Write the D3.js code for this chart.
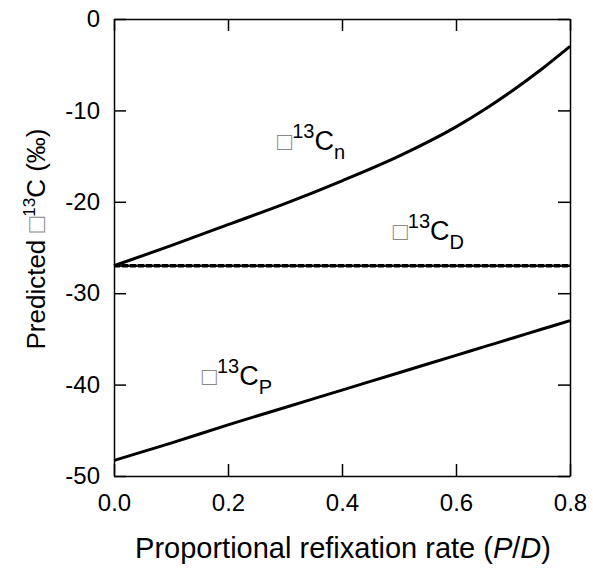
<!DOCTYPE html>
<html>
<head>
    <meta charset="utf-8">
    <script src="https://cdn.jsdelivr.net/npm/d3@7"></script>
    <style>
        body { margin: 0; background: #fff; }
        text { font-family: "Liberation Sans", Arial, sans-serif; }
        .axis .domain { stroke: #000; stroke-width: 1.5; }
        .axis line { stroke: #000; stroke-width: 1.5; }
    </style>
</head>
<body>
    <svg width="593" height="578" id="plot"></svg>
    <script>
        // P/D values
        const refixRate = [0, 0.1, 0.2, 0.3, 0.4, 0.5, 0.6, 0.65, 0.7, 0.75, 0.8];
        // d13C of n (curve)
        const deltaN = [-27.0, -24.8, -22.5, -20.2, -17.7, -15.0, -11.8, -9.9, -7.8, -5.5, -3.0];
        // d13C of D (flat)
        const deltaD = [-27, -27, -27, -27, -27, -27, -27, -27, -27, -27, -27];
        // d13C of P (near linear)
        const deltaP = [-48.3, -46.4, -44.4, -42.5, -40.6, -38.7, -36.8, -35.85, -34.9, -33.95, -33.0];

        const xTicks = [0, 0.2, 0.4, 0.6, 0.8];
        const yTicks = [0, -10, -20, -30, -40, -50];

        // label anchors in data coords
        const labels = [
            { x: 0.286, y: -14.3, sub: "n" },
            { x: 0.489, y: -24.2, sub: "D" },
            { x: 0.154, y: -40.0, sub: "P" }
        ];

        const margin = { top: 19, right: 23, bottom: 102, left: 114 };
        const svg = d3.select("#plot");
        const width = +svg.attr("width");
        const height = +svg.attr("height");
        const chartWidth = width - margin.left - margin.right;
        const chartHeight = height - margin.top - margin.bottom;

        const xScale = d3.scaleLinear().domain([0, 0.8]).range([0, chartWidth]);
        const yScale = d3.scaleLinear().domain([-50, 0]).range([chartHeight, 0]);

        const chart = svg.append("g").attr("transform", `translate(${margin.left}, ${margin.top})`);

        // frame + ticks (all pointing inward)
        chart.append("g").attr("class", "axis")
            .call(d3.axisLeft(yScale).tickValues(yTicks).tickSizeInner(-12).tickSizeOuter(0).tickPadding(14).tickFormat(d => String(d)))
            .selectAll("text").style("font-size", "24px").attr("fill", "#000");

        chart.append("g").attr("class", "axis").attr("transform", `translate(${chartWidth}, 0)`)
            .call(d3.axisRight(yScale).tickValues(yTicks).tickSizeInner(-12).tickSizeOuter(0).tickFormat(""));

        chart.append("g").attr("class", "axis").attr("transform", `translate(0, ${chartHeight})`)
            .call(d3.axisBottom(xScale).tickValues(xTicks).tickSizeInner(-12).tickSizeOuter(0).tickPadding(18).tickFormat(d3.format(".1f")))
            .selectAll("text").style("font-size", "24px").attr("fill", "#000");

        chart.append("g").attr("class", "axis")
            .call(d3.axisTop(xScale).tickValues(xTicks).tickSizeInner(-12).tickSizeOuter(0).tickFormat(""));

        // lines
        const line = d3.line()
            .x((d, i) => xScale(refixRate[i]))
            .y(d => yScale(d))
            .curve(d3.curveMonotoneX);

        chart.append("path").attr("d", line(deltaN))
            .attr("fill", "none").attr("stroke", "#000").attr("stroke-width", 3);

        chart.append("path").attr("d", line(deltaD))
            .attr("fill", "none").attr("stroke", "#111").attr("stroke-width", 2.5);
        chart.append("path").attr("d", line(deltaD))
            .attr("fill", "none").attr("stroke", "#000").attr("stroke-width", 3.5)
            .attr("stroke-dasharray", "6,2");

        chart.append("path").attr("d", line(deltaP))
            .attr("fill", "none").attr("stroke", "#000").attr("stroke-width", 3);

        // series labels
        labels.forEach(l => {
            const t = chart.append("text")
                .attr("x", xScale(l.x)).attr("y", yScale(l.y))
                .style("font-size", "27px").attr("fill", "#000");
            t.append("tspan").text("\u25A1").attr("fill", "#888").style("font-size", "25px");
            t.append("tspan").text("13").style("font-size", "20px").attr("dy", -12);
            t.append("tspan").text("C").attr("dy", 12);
            t.append("tspan").text(l.sub).style("font-size", "20px").attr("dy", 9);
        });

        // axis titles
        svg.append("text")
            .attr("x", margin.left + chartWidth / 2 + 1).attr("y", 558)
            .attr("text-anchor", "middle").style("font-size", "29px")
            .call(t => {
                t.append("tspan").text("Proportional refixation rate (");
                t.append("tspan").text("P").style("font-style", "italic");
                t.append("tspan").text("/");
                t.append("tspan").text("D").style("font-style", "italic");
                t.append("tspan").text(")");
            });

        svg.append("text")
            .attr("transform", `translate(45, 239) rotate(-90)`)
            .attr("text-anchor", "middle").style("font-size", "26px")
            .call(t => {
                t.append("tspan").text("Predicted ");
                t.append("tspan").text("\u25A1").attr("fill", "#888");
                t.append("tspan").text("13").style("font-size", "17px").attr("dy", -10);
                t.append("tspan").text("C (\u2030)").attr("dy", 10);
            });
    </script>
</body>
</html>
